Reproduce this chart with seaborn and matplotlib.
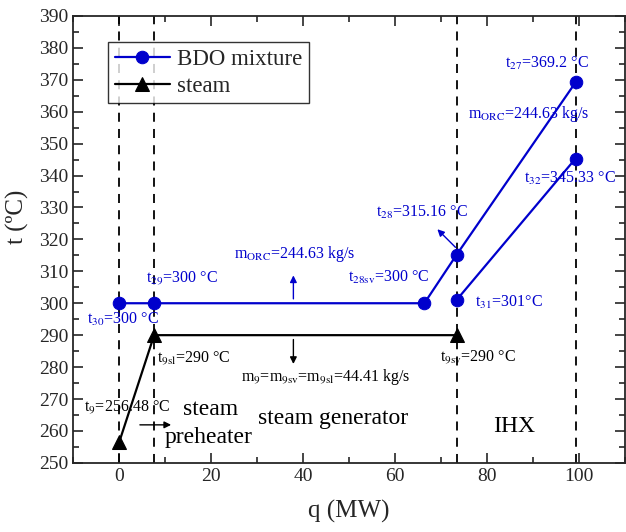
import numpy as np
import pandas as pd
import matplotlib
matplotlib.use("Agg")
import matplotlib.pyplot as plt
import seaborn as sns
from matplotlib.ticker import MultipleLocator

# BDO mixture: heating path and the IHX cold-side segment
bdo_q = [0, 7.6, 66.4, 73.4, 99.3]
bdo_t = [300, 300, 300, 315.16, 369.2]
ihx_q = [73.4, 99.3]
ihx_t = [301, 345.33]
# steam
steam_q = [0, 7.6, 73.4]
steam_t = [256.48, 290, 290]
# section boundaries
bounds = [0, 7.6, 73.4, 99.3]

sns.set_style("ticks")
plt.rcParams["font.family"] = ["Liberation Serif", "DejaVu Serif"]
plt.rcParams["mathtext.fontset"] = "stix"

fig = plt.figure(figsize=(6.26, 5.32), dpi=100)
ax = fig.add_axes([0.117, 0.13, 0.881, 0.84])

blue = "#0000cc"
bdo = pd.DataFrame({"q": bdo_q, "t": bdo_t})
ihx = pd.DataFrame({"q": ihx_q, "t": ihx_t})
stm = pd.DataFrame({"q": steam_q, "t": steam_t})

for b in bounds:
    ax.axvline(b, color="black", ls=(0, (5, 4)), lw=1.3, zorder=1)

sns.lineplot(data=bdo, x="q", y="t", ax=ax, color=blue, marker="o", markersize=9,
             markeredgecolor=blue, lw=1.6, label="BDO mixture", sort=False)
sns.lineplot(data=ihx, x="q", y="t", ax=ax, color=blue, marker="o", markersize=9,
             markeredgecolor=blue, lw=1.6, sort=False)
sns.lineplot(data=stm, x="q", y="t", ax=ax, color="black", marker="^", markersize=10,
             markeredgecolor="black", lw=1.6, label="steam", sort=False)

ax.set_xlim(-10, 110)
ax.set_ylim(250, 390)
ax.xaxis.set_major_locator(MultipleLocator(20))
ax.xaxis.set_minor_locator(MultipleLocator(10))
ax.yaxis.set_major_locator(MultipleLocator(10))
ax.yaxis.set_minor_locator(MultipleLocator(5))
ax.tick_params(which="both", direction="in", top=True, right=True, width=1.2)
ax.tick_params(which="major", length=7, labelsize=14)
ax.tick_params(which="minor", length=4)
for s in ax.spines.values():
    s.set_linewidth(1.3)
ax.set_xlabel("q (MW)", fontsize=18, labelpad=11)
ax.set_ylabel("t (ºC)", fontsize=18)
ax.yaxis.set_label_coords(-0.081, 0.55)

fs = 11.5
def note(x, y, s, c=blue, ha="left", size=fs):
    ax.text(x, y, s, color=c, fontsize=size, ha=ha, va="baseline")

note(84.0, 373.7, r"t$_{27}$=369.2 °C")
note(76.0, 358.0, r"m$_{\mathrm{ORC}}$=244.63 kg/s")
note(88.1, 337.6, r"t$_{32}$=345.33 °C")
note(55.8, 327.2, r"t$_{28}$=315.16 °C")
note(24.9, 314.3, r"m$_{\mathrm{ORC}}$=244.63 kg/s")
note(5.8, 306.5, r"t$_{29}$=300 °C")
note(49.8, 306.8, r"t$_{28\mathrm{sv}}$=300 °C")
note(-7.1, 293.6, r"t$_{30}$=300 °C")
note(77.5, 299.0, r"t$_{31}$=301°C")
note(8.2, 281.4, r"t$_{9\mathrm{sl}}$=290 °C", c="black")
note(69.9, 281.7, r"t$_{9\mathrm{sv}}$=290 °C", c="black")
note(26.6, 275.7, r"m$_9$=m$_{9\mathrm{sv}}$=m$_{9\mathrm{sl}}$=44.41 kg/s", c="black")
note(-7.6, 266.0, r"t$_9$=256.48 °C", c="black")
note(19.9, 265.1, "steam", c="black", ha="center", size=17)
note(19.5, 256.3, "preheater", c="black", ha="center", size=17)
note(46.5, 262.2, "steam generator", c="black", ha="center", size=17)
note(86.0, 259.7, "IHX", c="black", ha="center", size=17)

arr = dict(arrowstyle="-|>", mutation_scale=10, lw=1.0)
ax.annotate("", xy=(68.8, 323.8), xytext=(73.6, 316.9), arrowprops=dict(color=blue, **arr))
ax.annotate("", xy=(37.9, 309.6), xytext=(37.9, 300.5), arrowprops=dict(color=blue, **arr))
ax.annotate("", xy=(37.9, 280.1), xytext=(37.9, 289.5), arrowprops=dict(color="black", **arr))
ax.annotate("", xy=(11.9, 261.9), xytext=(3.9, 261.9), arrowprops=dict(color="black", **arr))

leg = ax.legend(loc="upper left", bbox_to_anchor=(0.063, 0.942), fontsize=16.5,
                frameon=True, fancybox=False, edgecolor="black", handlelength=2.4,
                borderpad=0.3, labelspacing=0.25, handletextpad=0.3, borderaxespad=0)
leg.get_frame().set_linewidth(1.0)

fig.savefig("out.png", dpi=100)
